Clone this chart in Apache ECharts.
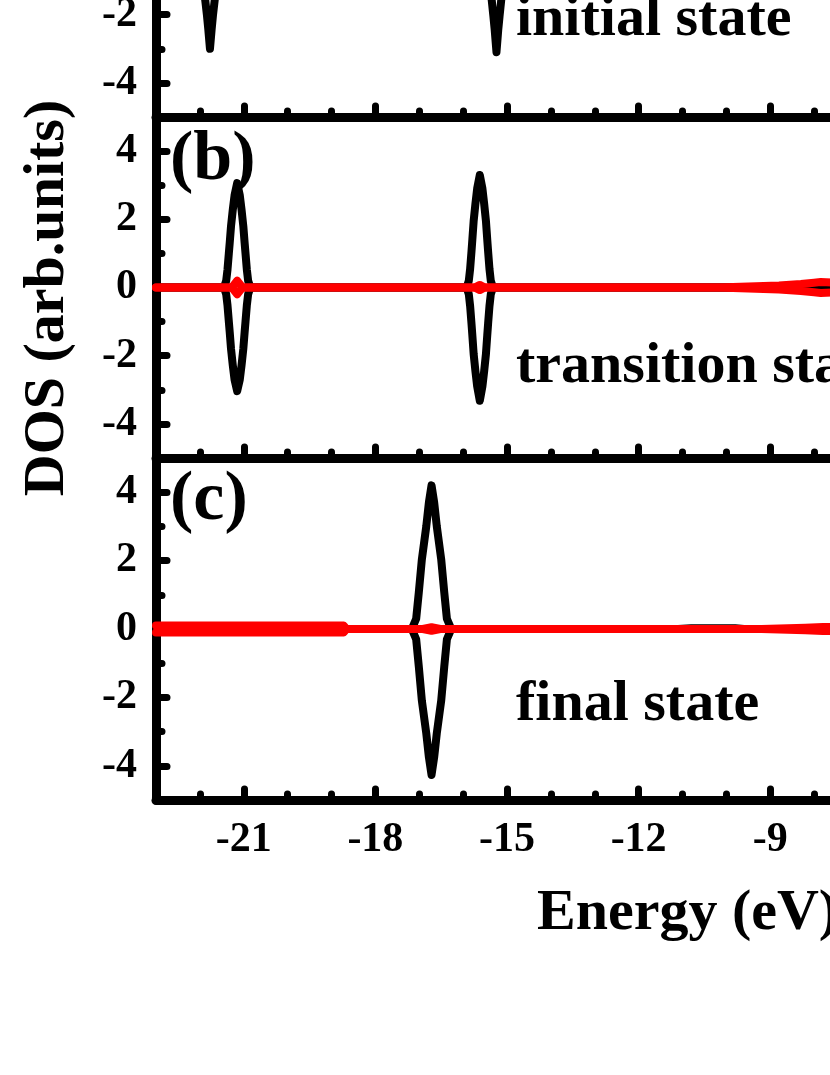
<!DOCTYPE html>
<html>
<head>
<meta charset="utf-8">
<title>DOS</title>
<script src="https://cdn.jsdelivr.net/npm/echarts@6/dist/echarts.min.js"></script>
<style>
  html, body { margin: 0; padding: 0; background: #fff; }
  body { width: 830px; height: 1075px; overflow: hidden; position: relative; }
  /* the figure is cropped: panel (a) runs above the window, the x axis runs past its right edge */
  #chart { position: absolute; left: 0; top: -224px; width: 900px; height: 1299px; }
</style>
</head>
<body>
<div id="chart"></div>
<script>
// (a) initial state
var eBlackA  = [-23, -22.07, -22.02, -21.97, -21.92, -21.88, -21.84, -21.81, -21.77, -21.73, -21.7, -21.66, -21.62, -21.57, -21.52, -21.47,
                -15.54, -15.49, -15.44, -15.39, -15.35, -15.31, -15.28, -15.24, -15.2, -15.17, -15.13, -15.09, -15.04, -14.99, -14.94, -7];
var upBlackA = [0, 0, 0.2, 0.5, 1.0, 1.55, 2.0, 2.4, 3.0, 2.4, 2.0, 1.55, 1.0, 0.5, 0.2, 0,
                0, 0.2, 0.5, 1.0, 1.55, 2.05, 2.45, 3.1, 2.45, 2.05, 1.55, 1.0, 0.5, 0.2, 0, 0];
var dnBlackA = [0, 0, -0.2, -0.5, -1.0, -1.55, -2.0, -2.4, -3.0, -2.4, -2.0, -1.55, -1.0, -0.5, -0.2, 0,
                0, -0.2, -0.5, -1.0, -1.55, -2.05, -2.45, -3.1, -2.45, -2.05, -1.55, -1.0, -0.5, -0.2, 0, 0];
var eRedA  = [-23, -7];
var upRedA = [0, 0];
var dnRedA = [0, 0];

// (b) transition state
var eBlackB  = [-23, -21.45, -21.4, -21.37, -21.34, -21.32, -21.29, -21.25, -21.21, -21.15, -21.09, -21.05, -21.01, -20.98, -20.96, -20.93, -20.9, -20.85,
                -15.92, -15.87, -15.84, -15.81, -15.79, -15.76, -15.72, -15.68, -15.62, -15.56, -15.52, -15.48, -15.45, -15.43, -15.4, -15.37, -15.32, -7];
var upBlackB = [0, 0, 0.2, 0.53, 1.0, 1.31, 1.8, 2.28, 2.7, 3.06, 2.7, 2.28, 1.8, 1.31, 1.0, 0.53, 0.2, 0,
                0, 0.2, 0.55, 1.05, 1.4, 1.95, 2.45, 2.9, 3.3, 2.9, 2.45, 1.95, 1.4, 1.05, 0.55, 0.2, 0, 0];
var dnBlackB = [0, 0, -0.2, -0.53, -1.0, -1.31, -1.8, -2.28, -2.7, -3.04, -2.7, -2.28, -1.8, -1.31, -1.0, -0.53, -0.2, 0,
                0, -0.2, -0.55, -1.05, -1.4, -1.95, -2.45, -2.9, -3.32, -2.9, -2.45, -1.95, -1.4, -1.05, -0.55, -0.2, 0, 0];
var eRedB  = [-23, -21.27, -21.15, -21.03, -15.74, -15.62, -15.5, -10.2, -9.5, -8.8, -8.3, -8.0, -7.85, -7.6, -7];
var upRedB = [0, 0, 0.2, 0, 0, 0.075, 0, 0, 0.03, 0.06, 0.1, 0.14, 0.16, 0.15, 0.15];
var dnRedB = [0, 0, -0.2, 0, 0, -0.075, 0, 0, -0.03, -0.06, -0.1, -0.14, -0.16, -0.15, -0.15];

// (c) final state
var eBlackC  = [-23, -17.17, -17.07, -17.01, -16.94, -16.84, -16.78, -16.72, -16.66, -16.6, -16.5, -16.43, -16.37, -16.27,
                -11.1, -10.8, -9.8, -9.6, -7];
var upBlackC = [0, 0, 0.3, 1.07, 2.04, 3.0, 3.7, 4.2, 3.7, 3.0, 2.04, 1.07, 0.3, 0,
                0, 0.025, 0.025, 0, 0];
var dnBlackC = [0, 0, -0.3, -1.1, -2.1, -3.05, -3.75, -4.27, -3.75, -3.05, -2.1, -1.1, -0.3, 0,
                0, 0, 0, 0, 0];
var eRedC  = [-23, -18.72, -18.66, -16.92, -16.72, -16.52, -9.2, -8.2, -7.8, -7];
var upRedC = [0.1, 0.1, 0, 0, 0.05, 0, 0, 0.04, 0.06, 0.06];
var dnRedC = [-0.1, -0.1, 0, 0, -0.05, 0, 0, -0.04, -0.06, -0.06];

var xMajorTicks = [-21, -18, -15, -12, -9];
var yMajorTicks = [-4, -2, 0, 2, 4];
var stateNames = ['initial state', 'transition state', 'final state'];
var panelNames = ['(a)', '(b)', '(c)'];

var FONT = '"Liberation Serif", "Times New Roman", serif';
var xMin = -23, xMax = -7;
var OFF = 224; // chart div sits this far above the window

var panels = [
  {top: 0, height: 341, e: [eBlackA, eRedA], up: [upBlackA, upRedA], dn: [dnBlackA, dnRedA], stateY: 20, labelY: -63},
  {top: 341, height: 341, e: [eBlackB, eRedB], up: [upBlackB, upRedB], dn: [dnBlackB, dnRedB], stateY: 367, labelY: 161},
  {top: 682, height: 342, e: [eBlackC, eRedC], up: [upBlackC, upRedC], dn: [dnBlackC, dnRedC], stateY: 705, labelY: 501}
];

function zip(xs, ys) {
  var out = [];
  for (var i = 0; i < xs.length; i++) out.push([xs[i], ys[i]]);
  return out;
}

var tickStyle = {color: '#000', width: 7, cap: 'round'};
var grids = [], xAxes = [], yAxes = [], series = [], graphics = [];

panels.forEach(function (p, i) {
  var last = i === panels.length - 1;
  grids.push({left: 156, top: p.top, width: 702, height: p.height});
  // minor ticks + axis line
  xAxes.push({
    type: 'value', gridIndex: i, position: 'bottom', min: xMin, max: xMax, interval: 1,
    axisLine: {onZero: false, lineStyle: {color: '#000', width: 9, cap: 'round'}},
    axisTick: {inside: true, length: 6, lineStyle: tickStyle},
    axisLabel: {show: false}, splitLine: {show: false}
  });
  // major ticks + labels
  xAxes.push({
    type: 'value', gridIndex: i, position: 'bottom', min: xMin, max: xMax,
    axisLine: {show: false, onZero: false},
    axisTick: {inside: true, length: 11, customValues: xMajorTicks, lineStyle: tickStyle},
    axisLabel: {show: last, customValues: xMajorTicks, margin: 19, color: '#000',
      fontFamily: FONT, fontWeight: 'bold', fontSize: 42},
    splitLine: {show: false}
  });
  yAxes.push({
    type: 'value', gridIndex: i, position: 'left', min: -5, max: 5, interval: 1,
    axisLine: {onZero: false, lineStyle: {color: '#000', width: 9, cap: 'round'}},
    axisTick: {inside: true, length: 6, lineStyle: tickStyle},
    axisLabel: {show: false}, splitLine: {show: false}
  });
  yAxes.push({
    type: 'value', gridIndex: i, position: 'left', min: -5, max: 5,
    axisLine: {show: false, onZero: false},
    axisTick: {inside: true, length: 11, customValues: yMajorTicks, lineStyle: tickStyle},
    axisLabel: {customValues: yMajorTicks, margin: 19, color: '#000',
      fontFamily: FONT, fontWeight: 'bold', fontSize: 42},
    splitLine: {show: false}
  });

  var colors = ['#000000', '#ff0000'];
  [0, 1].forEach(function (k) {
    [p.up[k], p.dn[k]].forEach(function (vals) {
      series.push({
        type: 'line', xAxisIndex: 2 * i, yAxisIndex: 2 * i,
        data: zip(p.e[k], vals), symbol: 'none', silent: true,
        lineStyle: {color: colors[k], width: 8, join: 'round', cap: 'round'},
        z: 3 + k
      });
    });
  });

  graphics.push({
    type: 'text', x: 516, y: p.stateY + OFF,
    style: {text: stateNames[i], fill: '#000', font: 'bold 58px ' + FONT, align: 'left', verticalAlign: 'middle'}
  });
  graphics.push({
    type: 'text', x: 170, y: p.labelY + OFF,
    style: {text: panelNames[i], fill: '#000', font: 'bold 70px ' + FONT, align: 'left', verticalAlign: 'middle'}
  });
});

graphics.push({
  type: 'text', x: 537, y: 914 + OFF,
  style: {text: 'Energy (eV)', fill: '#000', font: 'bold 58px ' + FONT, align: 'left', verticalAlign: 'middle'}
});
graphics.push({
  type: 'text', x: 48, y: 298 + OFF, rotation: Math.PI / 2,
  style: {text: 'DOS (arb.units)', fill: '#000', font: 'bold 58px ' + FONT, align: 'center', verticalAlign: 'middle'}
});

var chart = echarts.init(document.getElementById('chart'));
chart.setOption({
  animation: false,
  backgroundColor: '#fff',
  grid: grids,
  xAxis: xAxes,
  yAxis: yAxes,
  series: series,
  graphic: graphics
});
</script>
</body>
</html>
